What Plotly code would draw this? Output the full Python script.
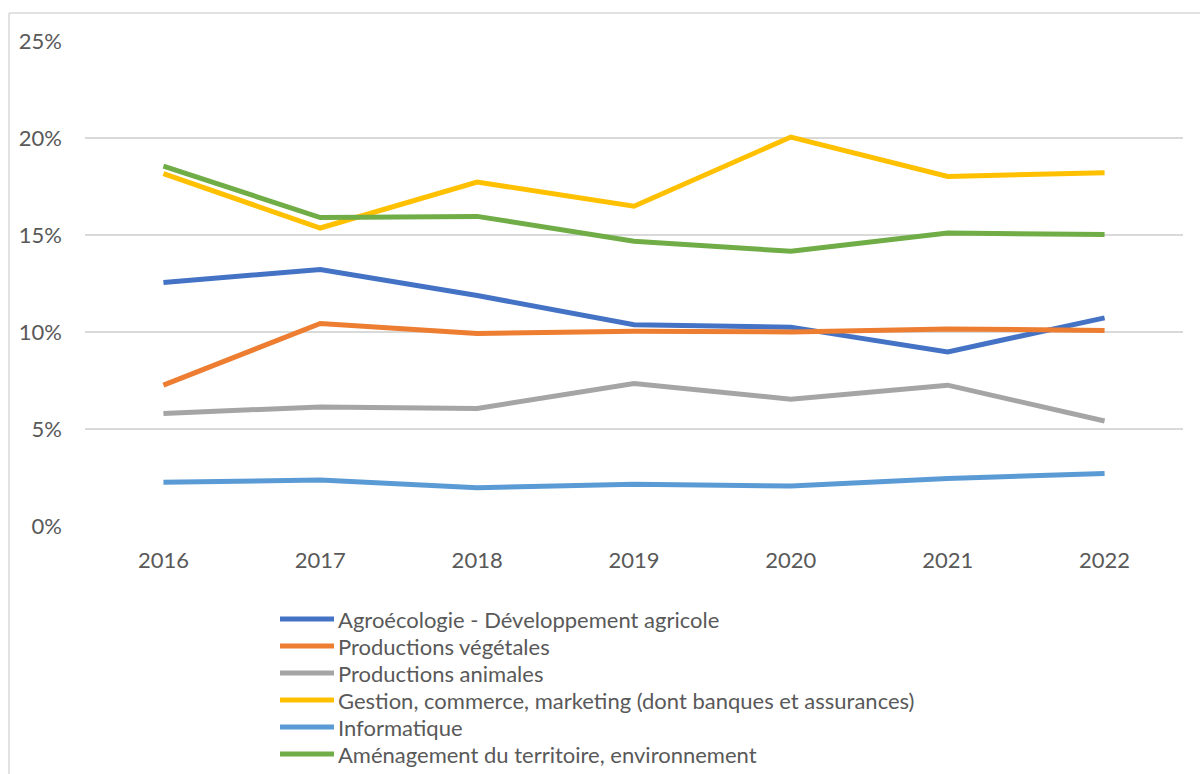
import plotly.graph_objects as go

# Years on the horizontal axis
years = ["2016", "2017", "2018", "2019", "2020", "2021", "2022"]

# Share of each field (%), per year
agroecologie = [12.55, 13.22, 11.88, 10.38, 10.25, 8.97, 10.73]
prod_vegetales = [7.26, 10.44, 9.92, 10.04, 10.00, 10.16, 10.08]
prod_animales = [5.80, 6.14, 6.06, 7.35, 6.54, 7.26, 5.41]
gestion = [18.16, 15.36, 17.73, 16.48, 20.05, 18.02, 18.21]
informatique = [2.25, 2.37, 1.97, 2.15, 2.06, 2.45, 2.71]
amenagement = [18.55, 15.90, 15.96, 14.68, 14.16, 15.10, 15.02]

series_names = [
    "Agroécologie - Développement agricole",
    "Productions végétales",
    "Productions animales",
    "Gestion, commerce, marketing (dont banques et assurances)",
    "Informatique",
    "Aménagement du territoire, environnement",
]
series_values = [agroecologie, prod_vegetales, prod_animales, gestion, informatique, amenagement]
series_colors = ["#4472C4", "#ED7D31", "#A5A5A5", "#FFC000", "#5B9BD5", "#70AD47"]

y_ticks = [0, 5, 10, 15, 20, 25]
y_tick_labels = ["0%", "5%", "10%", "15%", "20%", "25%"]

W, H = 1200, 774
M_L, M_R, M_T, M_B = 85, 17, 41, 248
PLOT_W = W - M_L - M_R
PLOT_H = H - M_T - M_B

FONT = "Lato"
TEXT_COLOR = "#595959"
FONT_SIZE = 22


def px_x(p):
    return (p - M_L) / PLOT_W


def px_y(p):
    return (H - M_B - p) / PLOT_H


fig = go.Figure()
for name, vals, col in zip(series_names, series_values, series_colors):
    fig.add_trace(go.Scatter(
        x=years, y=vals, name=name, mode="lines",
        line=dict(color=col, width=5, shape="linear"),
        showlegend=False,
    ))

shapes = [
    # chart frame
    dict(type="line", xref="paper", yref="paper", x0=px_x(9), x1=px_x(9),
         y0=px_y(13), y1=px_y(H + 10), line=dict(color="#D9D9D9", width=1.5)),
    dict(type="line", xref="paper", yref="paper", x0=px_x(9), x1=px_x(W + 10),
         y0=px_y(13), y1=px_y(13), line=dict(color="#D9D9D9", width=1.5)),
]
annotations = []

# legend drawn below the plot, one row per series
LEG_X0, LEG_X1, LEG_TX, LEG_Y0, LEG_DY = 280, 334, 336, 619, 27
for i, (name, col) in enumerate(zip(series_names, series_colors)):
    yy = LEG_Y0 + i * LEG_DY
    shapes.append(dict(type="line", xref="paper", yref="paper",
                       x0=px_x(LEG_X0), x1=px_x(LEG_X1), y0=px_y(yy), y1=px_y(yy),
                       line=dict(color=col, width=5)))
    annotations.append(dict(xref="paper", yref="paper", x=px_x(LEG_TX), y=px_y(yy),
                            xanchor="left", yanchor="middle", showarrow=False,
                            text=name, font=dict(family=FONT, size=FONT_SIZE, color=TEXT_COLOR)))

fig.update_layout(
    width=W, height=H,
    margin=dict(l=M_L, r=M_R, t=M_T, b=M_B),
    paper_bgcolor="white", plot_bgcolor="white",
    font=dict(family=FONT, color=TEXT_COLOR),
    shapes=shapes, annotations=annotations,
    xaxis=dict(
        type="category", range=[-0.5, 6.5], showgrid=False, zeroline=False,
        showline=False, ticks="", tickfont=dict(size=FONT_SIZE, color=TEXT_COLOR),
        ticklabelstandoff=19,
    ),
    yaxis=dict(
        range=[0, 25], tickvals=y_ticks, ticktext=y_tick_labels,
        showgrid=True, gridcolor="#D9D9D9", gridwidth=1.5, zeroline=False,
        showline=False, ticks="", tickfont=dict(size=FONT_SIZE, color=TEXT_COLOR),
        ticklabelstandoff=22,
    ),
)

fig.write_html("out.html")
